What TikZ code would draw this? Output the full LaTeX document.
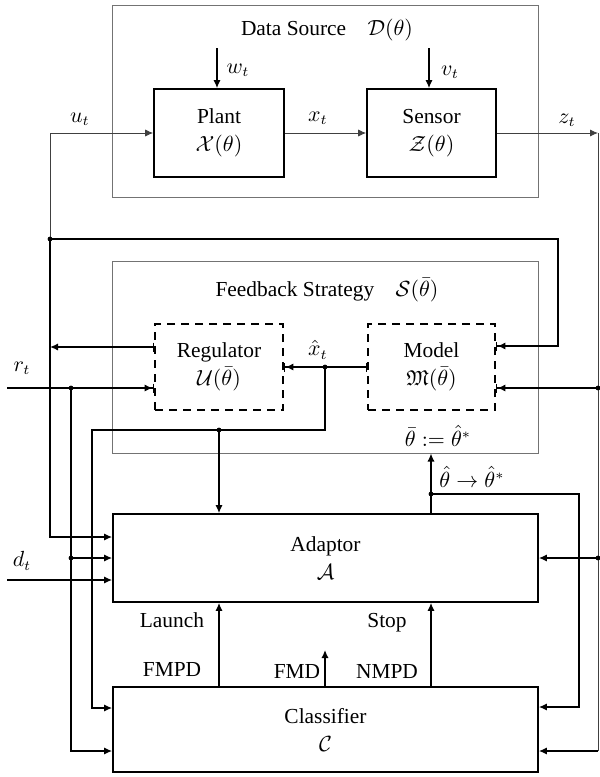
\documentclass[tikz,border=0pt]{standalone}
\usepackage{amssymb}
\usepackage{fontspec}
\setmainfont{Liberation Serif}
\usetikzlibrary{arrows.meta,calc}
\begin{document}
\begin{tikzpicture}[x=0.5pt,y=-0.5pt,
  font=\fontsize{10.7}{13}\selectfont,
  outer/.style={draw=black!55, line width=0.5pt, inner sep=0pt},
  blk/.style={draw=black, line width=0.85pt, align=center, inner sep=0pt},
  dsh/.style={blk, dash pattern=on 4pt off 3pt},
  conn/.style={draw=black, line width=0.7pt},
  sig/.style={draw=black!75, line width=0.45pt},
  tip/.style={-{Latex[length=4pt,width=3.6pt]}},
  tipbar/.style={-{Latex[length=4pt,width=3.6pt]Bar[width=4.5pt,line width=0.8pt]}},
  bartip/.style={{Bar[width=4.5pt,line width=0.8pt]}-{Latex[length=4pt,width=3.6pt]}},
  bartipbar/.style={{Bar[width=4.5pt,line width=0.8pt]}-{Latex[length=4pt,width=3.6pt]Bar[width=4.5pt,line width=0.8pt]}},
  jdot/.style={circle, fill=black, inner sep=0pt, minimum size=2.4pt},
  lbl/.style={inner sep=0pt}]
\useasboundingbox (0,0) rectangle (600,777);

% boxes
\node[outer, minimum width=213pt, minimum height=96pt] (ds) at (325,101) {};
\node[lbl] (dst) at (327,30) {Data Source\quad $\mathcal{D}(\theta)$};
\node[blk, minimum width=65pt, minimum height=44pt] (plant) at (219,133) {Plant\\[1pt]$\mathcal{X}(\theta)$};
\node[blk, minimum width=64.5pt, minimum height=44pt] (sensor) at (431.5,133) {Sensor\\[1pt]$\mathcal{Z}(\theta)$};
\node[outer, minimum width=213pt, minimum height=96pt] (fs) at (325,357) {};
\node[lbl] (fst) at (327,290) {Feedback Strategy\quad $\mathcal{S}(\bar{\theta})$};
\node[dsh, minimum width=64pt, minimum height=43pt] (reg) at (219,367) {Regulator\\[1pt]$\mathcal{U}(\bar{\theta})$};
\node[dsh, minimum width=63.5pt, minimum height=43pt] (model) at (431.5,367) {Model\\[1pt]$\mathfrak{M}(\bar{\theta})$};
\node[blk, minimum width=212.5pt, minimum height=44pt] (adp) at (325.5,558) {Adaptor\\[1pt]$\mathcal{A}$};
\node[blk, minimum width=212.5pt, minimum height=42.5pt] (cls) at (325.5,729.5) {Classifier\\[1pt]$\mathcal{C}$};

% junction coordinates
\coordinate (wt) at (217,48);
\coordinate (vt) at (429,48);
\coordinate (j1) at (50,239);
\coordinate (zt) at (598,133);
\coordinate (zb) at (598,751);
\coordinate (rin) at (7,388);
\coordinate (jr) at (71,388);
\coordinate (jr2) at (71,558);
\coordinate (din) at (7,580);
\coordinate (jx) at (325,367);
\coordinate (c1) at (325,430);
\coordinate (c2) at (92,430);
\coordinate (ja) at (219,430);
\coordinate (jt) at (431,494);
\coordinate (c3) at (579,494);
\coordinate (c4) at (558,239);
\coordinate (jz1) at (598,388);
\coordinate (jz2) at (598,558);
\coordinate (fmd) at (325,650);

% data source signals
\draw[conn,tip] (wt) -- (wt |- plant.north);
\node[lbl] at (238,70) {$w_t$};
\draw[conn,tip] (vt) -- (vt |- sensor.north);
\node[lbl] at (450,72) {$v_t$};
\draw[sig,tip] (j1) |- (plant.west);
\node[lbl] at (80,119) {$u_t$};
\draw[sig,tip] (plant.east) -- (sensor.west);
\node[lbl] at (318,118) {$x_t$};
\draw[sig,tip] (sensor.east) -- (zt);
\node[lbl] at (567,120) {$z_t$};
\draw[sig] (zt) -- (zb);
\draw[conn,tip] (zb) -- (zb -| cls.east);

% feedback around
\draw[conn,tipbar] (j1) -- (c4) |- ([yshift=10.5pt]model.east);
\draw[conn,tip] (j1) |- ([yshift=10.5pt]adp.west);
\draw[conn,bartip] ([yshift=10pt]reg.west) coordinate (ro) -- (ro -| j1);

% r_t
\draw[conn,tipbar] (rin) -- ([yshift=-10.5pt]reg.west);
\node[lbl] at (22,368) {$r_t$};
\draw[conn,tip] (jr) |- ([yshift=-10.75pt]cls.west);
\draw[conn,tip] (jr2) -- (adp.west);

% d_t
\draw[conn,tip] (din) -- ([yshift=-11pt]adp.west);
\node[lbl] at (22,561) {$d_t$};

% x hat
\draw[conn,bartipbar] (model.west) -- (reg.east);
\node[lbl] at (318,350) {$\hat{x}_t$};
\draw[conn,tip] (jx) -- (c1) -- (c2) |- ([yshift=10.75pt]cls.west);
\draw[conn,tip] (ja) -- (ja |- adp.north);

% adaptor output
\draw[conn,tip] (jt |- adp.north) -- (jt |- fs.south);
\node[lbl] at (438,436) {$\bar{\theta} := \hat{\theta}^{*}$};
\node[lbl] at (472,477) {$\hat{\theta} \rightarrow \hat{\theta}^{*}$};
\draw[conn,tip] (jt) -- (c3) |- ([yshift=11.25pt]cls.east);

% right inputs
\draw[conn,tipbar] (jz1) -- ([yshift=-10.5pt]model.east);
\draw[conn,tip] (jz2) -- (adp.east);

% classifier outputs
\draw[conn,tip] (ja |- cls.north) -- (ja |- adp.south);
\draw[conn,tip] (jt |- cls.north) -- (jt |- adp.south);
\draw[conn,tip] (fmd |- cls.north) -- (fmd);
\node[lbl] at (172,620) {Launch};
\node[lbl] at (172,670) {FMPD};
\node[lbl] at (387,623) {Stop};
\node[lbl] at (387,672) {NMPD};
\node[lbl] at (297,672) {FMD};

% dots
\foreach \p in {j1,jr,jr2,jx,ja,jt,jz1,jz2}
  \node[jdot] at (\p) {};
\end{tikzpicture}
\end{document}
